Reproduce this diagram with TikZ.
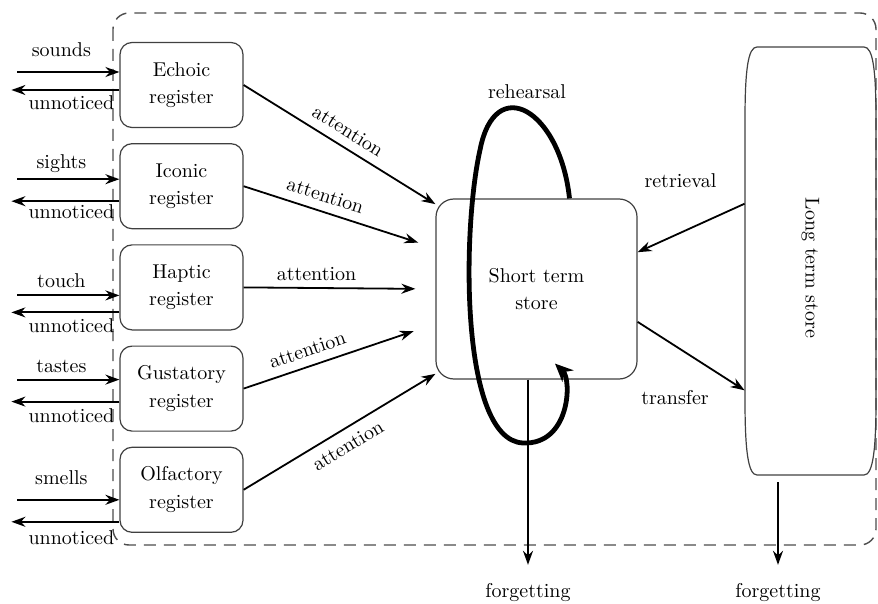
\documentclass[tikz,border=0pt]{standalone}
\usepackage{amsmath}
\usetikzlibrary{positioning}
\usetikzlibrary{arrows.meta}
\usetikzlibrary{calc}

\tikzset{
  register/.style={draw=black!75, line width=0.6pt, rounded corners=6pt,
    minimum width=61.5pt, minimum height=42.5pt, align=center,
    font=\linespread{1.15}\selectfont},
  store/.style={draw=black!75, line width=0.6pt, rounded corners=9pt,
    minimum width=100.5pt, minimum height=90pt, align=center,
    font=\linespread{1.15}\selectfont},
  flow/.style={-{Stealth[length=7pt,width=5pt]}, line width=0.9pt},
  loopflow/.style={-{Stealth[length=9pt,width=8pt]}, line width=2.4pt},
  frame/.style={black!70, line width=0.7pt, dash pattern=on 6pt off 4pt}
}

\begin{document}
\begin{tikzpicture}[x=0.5pt,y=-0.5pt]
\useasboundingbox (0,0) rectangle (878,604);
\draw[frame, rounded corners=8pt] (113,13) rectangle (876,545);

% sensory registers
\node[register] (echoic) at (181.5,85) {Echoic\\register};
\node[register, below=7.5pt of echoic] (iconic) {Iconic\\register};
\node[register, below=7.5pt of iconic] (haptic) {Haptic\\register};
\node[register, below=7.5pt of haptic] (gustatory) {Gustatory\\register};
\node[register, below=7.5pt of gustatory] (olfactory) {Olfactory\\register};

% stores
\node[store] (sts) at (536.5,289) {Short term\\store};
\node[minimum width=65.5pt, minimum height=214pt] (lts) at (810.5,261) {};
\node[rotate=-90] (ltstext) at (810.5,268) {Long term store};
\draw[black!75, line width=0.6pt] (757,47) -- (864,47)
  .. controls (873,47) and (876,70) .. (876,120) -- (876,400)
  .. controls (876,450) and (873,475) .. (864,475) -- (757,475)
  .. controls (748,475) and (745,450) .. (745,400) -- (745,120)
  .. controls (745,70) and (748,47) .. (757,47) -- cycle;

% stimuli in and out
\foreach \reg/\din/\dout/\sense/\dsense/\dun in {
    echoic/-13/5/sounds/-35/18,
    iconic/-7/15/sights/-23/25,
    haptic/8/25/touch/-7/38,
    gustatory/-9/13/tastes/-22/27,
    olfactory/10/32/smells/-12/48}
{
  \draw[flow] ($(\reg.west)+(-102,\din)$) -- ($(\reg.west)+(0,\din)$);
  \draw[flow] ($(\reg.west)+(0,\dout)$) -- ($(\reg.west)+(-108,\dout)$);
  \node (\reg-in) at ($(\reg.west)+(-58,\dsense)$) {\sense};
  \node (\reg-out) at ($(\reg.west)+(-48,\dun)$) {unnoticed};
}

% attention
\draw[flow] (echoic.east) -- (sts.140) node[midway, above=1pt, sloped] {attention};
\draw[flow, shorten >=9pt] (iconic.east) -- (sts.158.7) node[pos=0.4, above=1pt, sloped] {attention};
\draw[flow, shorten >=10pt] (haptic.east) -- (sts.west) node[pos=0.38, above] {attention};
\draw[flow, shorten >=11.5pt] (gustatory.east) -- (sts.199.7) node[pos=0.36, above=1pt, sloped] {attention};
\draw[flow] (olfactory.east) -- (sts.220) node[midway, below=1pt, sloped] {attention};

% rehearsal
\draw[loopflow] ($(sts.north)+(33,0)$) .. controls (560,110) and (495,72) .. (480,150)
  .. controls (462,230) and (460,440) .. (523,443)
  .. controls (570,445) and (572,380) .. ($(sts.south)+(18.5,-16)$);
\node (rehearsal) at (527,92) {rehearsal};

% retrieval and transfer
\draw[flow] (lts.139.5) -- (sts.20) node[pos=0.6, yshift=26pt] {retrieval};
\draw[flow] (sts.-18) -- (lts.243.1) node[pos=0.35, yshift=-26pt] {transfer};

% forgetting
\node (forgetsts) at (528,593) {forgetting};
\node (forgetlts) at (778,593) {forgetting};
\draw[flow, shorten >=6pt] (sts.south -| forgetsts) -- (forgetsts);
\draw[flow, shorten <=3.5pt, shorten >=6pt] (lts.south -| forgetlts) -- (forgetlts);
\end{tikzpicture}
\end{document}
